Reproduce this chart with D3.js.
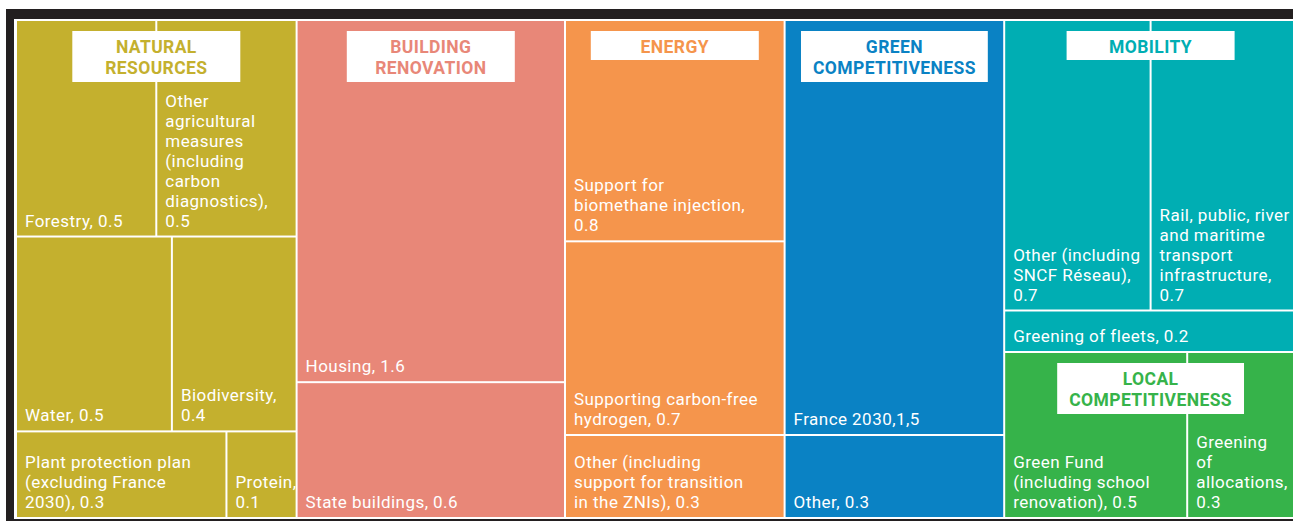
<!DOCTYPE html>
<html>
<head>
<meta charset="utf-8">
<script src="https://cdn.jsdelivr.net/npm/d3@7"></script>
<style>
  html, body { margin: 0; padding: 0; background: #ffffff; }
  svg { display: block; }
  .leaf-label { font-family: Roboto, sans-serif; font-size: 17px; letter-spacing: 0.45px; fill: #ffffff; }
  .group-title { font-family: Roboto, sans-serif; font-size: 17.5px; font-weight: 700; letter-spacing: 0.4px; }
</style>
</head>
<body>
<svg id="chart" width="1293" height="521"></svg>
<script>
// Thematic groups and their colours
const groupNames = [
  "NATURAL\nRESOURCES",
  "BUILDING\nRENOVATION",
  "ENERGY",
  "GREEN\nCOMPETITIVENESS",
  "MOBILITY",
  "LOCAL\nCOMPETITIVENESS"
];
const groupColors = ["#c4b02e", "#e88778", "#f5954c", "#0a82c4", "#00aeb3", "#36b34a"];
// Column that each group sits in (mobility and local competitiveness share one)
const groupColumn = [0, 1, 2, 3, 4, 4];

// Measures: group, row inside the group, label, amount
const itemGroup = [0, 0, 0, 0, 0, 0, 1, 1, 2, 2, 2, 3, 3, 4, 4, 4, 5, 5];
const itemRow   = [0, 0, 1, 1, 2, 2, 0, 1, 0, 1, 2, 0, 1, 0, 0, 1, 0, 0];
const itemLabels = [
  "Forestry, 0.5",
  "Other\nagricultural\nmeasures\n(including\ncarbon\ndiagnostics),\n0.5",
  "Water, 0.5",
  "Biodiversity,\n0.4",
  "Plant protection plan\n(excluding France\n2030), 0.3",
  "Protein,\n0.1",
  "Housing, 1.6",
  "State buildings, 0.6",
  "Support for\nbiomethane injection,\n0.8",
  "Supporting carbon-free\nhydrogen, 0.7",
  "Other (including\nsupport for transition\nin the ZNIs), 0.3",
  "France 2030,1,5",
  "Other, 0.3",
  "Other (including\nSNCF Réseau),\n0.7",
  "Rail, public, river\nand maritime\ntransport\ninfrastructure,\n0.7",
  "Greening of fleets, 0.2",
  "Green Fund\n(including school\nrenovation), 0.5",
  "Greening\nof\nallocations,\n0.3"
];
const itemValues = [0.5, 0.5, 0.5, 0.4, 0.3, 0.1, 1.6, 0.6, 0.8, 0.7, 0.3, 1.5, 0.3, 0.7, 0.7, 0.2, 0.5, 0.3];

// Build the nesting: columns (side by side) > groups (stacked) > rows (stacked) > measures (side by side)
const columns = d3.groups(groupNames.map((g, i) => i), i => groupColumn[i]).map(([c, gs]) => ({
  dir: "v",
  children: gs.map(g => ({
    dir: "v",
    group: g,
    children: d3.groups(itemValues.map((v, i) => i).filter(i => itemGroup[i] === g), i => itemRow[i])
      .map(([r, items]) => ({
        dir: "h",
        children: items.map(i => ({ group: g, label: itemLabels[i], value: itemValues[i] }))
      }))
  }))
}));
const rootData = { dir: "h", children: columns };

const svg = d3.select("#chart");
const W = 1293, H = 521;

// Dark frame around the map
svg.append("rect").attr("x", 6).attr("y", 9).attr("width", W + 20).attr("height", H + 20).attr("fill", "#231f20");
svg.append("rect").attr("x", 14).attr("y", 19).attr("width", W + 20).attr("height", 500).attr("fill", "#ffffff");

const root = d3.hierarchy(rootData).sum(d => d.value || 0);

d3.treemap()
  .tile((node, x0, y0, x1, y1) => {
    (node.data.dir === "h" ? d3.treemapDice : d3.treemapSlice)(node, x0, y0, x1, y1);
  })
  .size([1279, 496])
  .paddingInner(2)
  .round(false)(root);

const map = svg.append("g").attr("transform", "translate(17,21)");
const leaves = root.leaves();

const cell = map.append("g").selectAll("g").data(leaves).join("g");

cell.append("rect")
  .attr("x", d => d.x0)
  .attr("y", d => d.y0)
  .attr("width", d => d.x1 - d.x0)
  .attr("height", d => d.y1 - d.y0)
  .attr("fill", d => groupColors[d.data.group]);

const lineH = 20;
cell.append("text")
  .attr("class", "leaf-label")
  .each(function (d) {
    const lines = d.data.label.split("\n");
    const t = d3.select(this);
    lines.forEach((ln, k) => {
      t.append("tspan")
        .attr("x", d.x0 + 8)
        .attr("y", d.y1 - 9 - (lines.length - 1 - k) * lineH)
        .text(ln);
    });
  });

// Group titles in white boxes at the top of each group
const groupNodes = root.descendants().filter(d => d.data.group !== undefined && d.children);
const titles = map.append("g").selectAll("g").data(groupNodes).join("g");

titles.each(function (d) {
  const g = d3.select(this);
  const lines = groupNames[d.data.group].split("\n");
  const cx = (d.x0 + d.x1) / 2;
  const top = d.y0 + 10;
  const box = g.append("rect").attr("fill", "#ffffff");
  const text = g.append("text")
    .attr("class", "group-title")
    .attr("text-anchor", "middle")
    .attr("fill", groupColors[d.data.group]);
  lines.forEach((ln, k) => {
    text.append("tspan").attr("x", cx).attr("y", top + 22 + k * 21).text(ln);
  });
  const tw = text.node().getBBox().width;
  const bw = Math.max(168, tw + 24);
  const bh = lines.length === 1 ? 29 : 51;
  box.attr("x", cx - bw / 2).attr("y", top).attr("width", bw).attr("height", bh);
});
</script>
</body>
</html>
